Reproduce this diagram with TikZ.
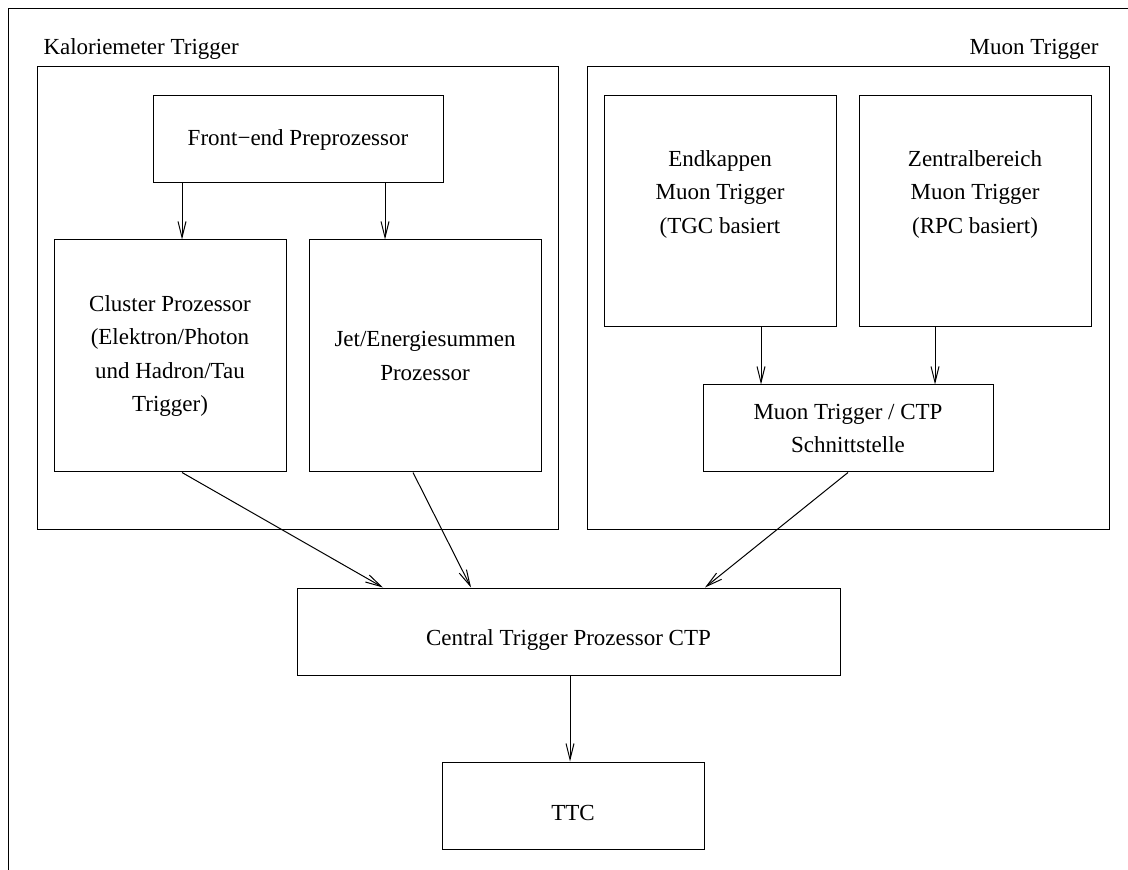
\documentclass[tikz,border=0pt]{standalone}
\usepackage{fontspec}
\setmainfont{Liberation Serif}
\usetikzlibrary{arrows.meta}
\begin{document}
\begin{tikzpicture}[x=0.5pt,y=-0.5pt,
  line width=0.5pt,
  every node/.style={font={\fontsize{11.5pt}{16.75pt}\selectfont}},
  box/.style={draw, rectangle, inner sep=0pt, align=center},
  txt/.style={inner sep=0pt, align=center},
  arr/.style={-{Straight Barb[length=8pt,width=4pt]}}]
\useasboundingbox (0,0) rectangle (1128,870);
% outer frame (partially visible)
\draw (8,870) -- (8,9) -- (1128,9);
% group boxes
\node[box, minimum width=260.5pt, minimum height=231.5pt] (kal) at (297.5,298.5) {};
\node[box, minimum width=261pt, minimum height=231.5pt] (muo) at (848,298.5) {};
\node[txt, anchor=base west] (kallab) at (43,55) {Kaloriemeter Trigger};
\node[txt, anchor=base east] (muolab) at (1099,55) {Muon Trigger};
% calorimeter part
\node[box, minimum width=145pt, minimum height=43.5pt] (fe) at (298,139.5) {Front−end Preprozessor};
\node[box, minimum width=116pt, minimum height=116pt] (cl) at (170,356) {Cluster Prozessor\\(Elektron/Photon\\und Hadron/Tau\\Trigger)};
\node[box, minimum width=116pt, minimum height=116pt] (jet) at (425,356) {Jet/Energiesummen\\Prozessor};
% muon part
\node[box, minimum width=116pt, minimum height=115.5pt] (end) at (720,211.5) {};
\node[txt] (endt) at (720,194) {Endkappen\\Muon Trigger\\(TGC basiert};
\node[box, minimum width=116pt, minimum height=115.5pt] (zen) at (975,211.5) {};
\node[txt] (zent) at (975,194) {Zentralbereich\\Muon Trigger\\(RPC basiert)};
\node[box, minimum width=145pt, minimum height=43.5pt] (mc) at (848,428.5) {Muon Trigger / CTP\\Schnittstelle};
% central
\node[box, minimum width=271.5pt, minimum height=43.5pt] (ctp) at (568.5,631.5) {};
\node[txt] (ctpt) at (568.5,640) {Central Trigger Prozessor CTP};
\node[box, minimum width=131pt, minimum height=43.5pt] (ttc) at (573,805.5) {};
\node[txt] (ttct) at (573,813) {TTC};
% connectors
\draw[arr] (182,0 |- fe.south) -- (182,0 |- cl.north);
\draw[arr] (385,0 |- fe.south) -- (385,0 |- jet.north);
\draw[arr] (761,0 |- end.south) -- (761,0 |- mc.north);
\draw[arr] (935,0 |- zen.south) -- (935,0 |- mc.north);
\draw[arr] (182,0 |- cl.south) -- (383,0 |- ctp.north);
\draw[arr] (413,0 |- jet.south) -- (471,0 |- ctp.north);
\draw[arr] (mc.south) -- (705,0 |- ctp.north);
\draw[arr] (570,0 |- ctp.south) -- (570,0 |- ttc.north);
\end{tikzpicture}
\end{document}
